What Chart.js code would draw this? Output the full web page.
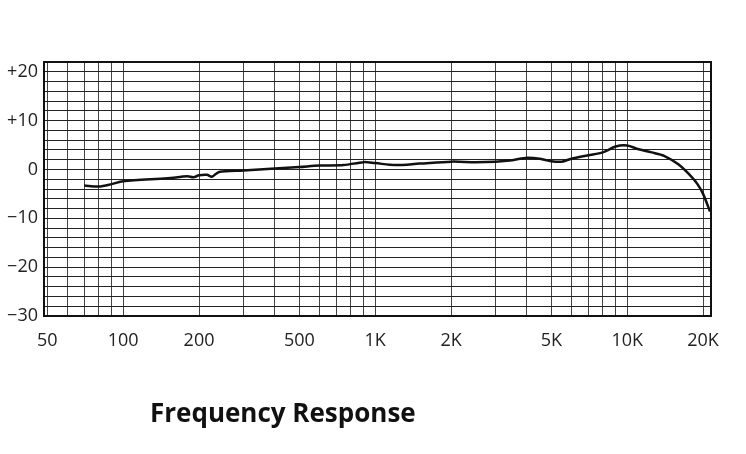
<!DOCTYPE html>
<html>
<head>
<script src="https://cdn.jsdelivr.net/npm/chart.js@4"></script>
<style>
body { margin: 0; background: #fff; }
#wrap { position: relative; width: 746px; height: 454px; }
#title { position: absolute; left: 150px; top: 394px; font: bold 26px "Open Sans", sans-serif; color: #111; }
</style>
</head>
<body>
<div id="wrap">
<canvas id="frChart" width="746" height="454"></canvas>
<div id="title">Frequency Response</div>
</div>
<script>
var freqs = [70, 80, 90, 100, 150, 180, 190, 200, 215, 225, 240, 300, 400, 500, 600, 750, 900, 1000, 1200, 1500, 2000, 2500, 3000, 3500, 4000, 4500, 5000, 5500, 6000, 7000, 8000, 9000, 10000, 11000, 12500, 14000, 16000, 18000, 19000, 20000, 21300];
var levels = [-3.3, -3.5, -3, -2.4, -1.8, -1.4, -1.6, -1.2, -1.1, -1.5, -0.5, -0.2, 0.2, 0.5, 0.8, 0.9, 1.5, 1.3, 0.9, 1.2, 1.6, 1.5, 1.6, 1.9, 2.4, 2.2, 1.7, 1.6, 2.2, 2.9, 3.5, 4.7, 4.9, 4.2, 3.5, 2.8, 1.0, -1.5, -3, -5, -8.6];
var xTickLabels = { 50: '50', 100: '100', 200: '200', 500: '500', 1000: '1K', 2000: '2K', 5000: '5K', 10000: '10K', 20000: '20K' };
var yTickLabels = { 20: '+20', 10: '+10', 0: '0', '-10': '\u221210', '-20': '\u221220', '-30': '\u221230' };

var points = freqs.map(function (f, i) { return { x: f, y: levels[i] }; });

var ctx = document.getElementById('frChart').getContext('2d');
new Chart(ctx, {
    type: 'line',
    data: {
        datasets: [{
            data: points,
            borderColor: '#111',
            borderWidth: 2.5,
            pointRadius: 0,
            tension: 0.3,
            fill: false
        }]
    },
    options: {
        responsive: false,
        animation: false,
        layout: { padding: { top: 62, right: 35, left: 0, bottom: 0 } },
        plugins: { legend: { display: false }, tooltip: { enabled: false } },
        scales: {
            x: {
                type: 'logarithmic',
                min: 48.5,
                max: 21500,
                afterBuildTicks: function (axis) {
                    var t = [];
                    [10, 100, 1000, 10000].forEach(function (d) {
                        for (var m = 1; m < 10; m++) {
                            var v = d * m;
                            if (v >= 50 && v <= 20000) t.push({ value: v });
                        }
                    });
                    axis.ticks = t;
                },
                afterFit: function (axis) { axis.height = 138; },
                ticks: {
                    autoSkip: false,
                    maxRotation: 0,
                    padding: 14,
                    color: '#222',
                    font: { family: 'Open Sans', size: 18 },
                    callback: function (v) { return xTickLabels[v] || ''; }
                },
                grid: { color: '#444', lineWidth: 1, drawTicks: false },
                border: { color: '#111', width: 2 }
            },
            y: {
                min: -30,
                max: 22,
                afterBuildTicks: function (axis) {
                    var t = [];
                    for (var v = -30; v <= 22; v += 2) t.push({ value: v });
                    axis.ticks = t;
                },
                afterFit: function (axis) { axis.width = 44; },
                ticks: {
                    autoSkip: false,
                    padding: 6,
                    color: '#222',
                    font: { family: 'Open Sans', size: 18 },
                    callback: function (v) { return yTickLabels[v] || ''; }
                },
                grid: { color: '#222', lineWidth: 1, drawTicks: false },
                border: { color: '#111', width: 2 }
            }
        }
    },
    plugins: [{
        id: 'frame',
        afterDraw: function (chart) {
            var a = chart.chartArea, c = chart.ctx;
            c.save();
            c.strokeStyle = '#111';
            c.lineWidth = 2;
            c.strokeRect(a.left, a.top, a.right - a.left, a.bottom - a.top);
            c.restore();
        }
    }]
});
</script>
</body>
</html>
